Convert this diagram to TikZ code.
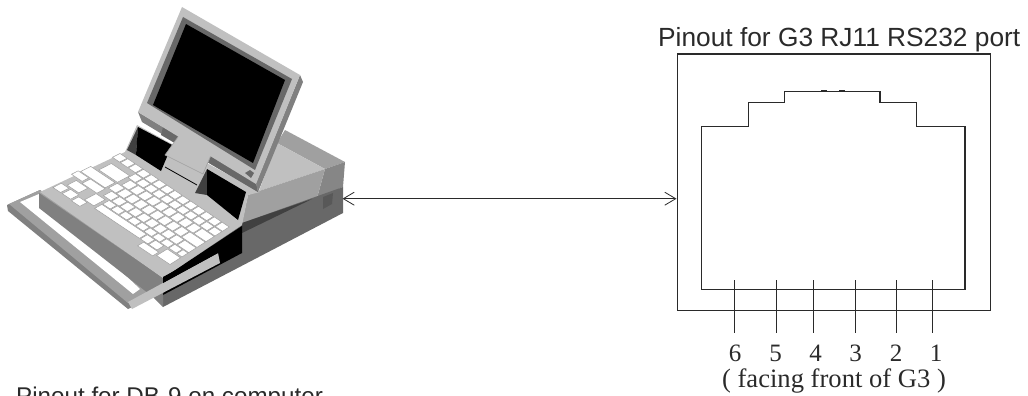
\documentclass[tikz,border=0pt]{standalone}
\usepackage{fontspec}
\setmainfont{Liberation Serif}
\setsansfont{Liberation Sans}
\usetikzlibrary{arrows.meta}
\definecolor{gA}{HTML}{C0C0C0}
\definecolor{gB}{HTML}{A0A0A0}
\definecolor{gC}{HTML}{808080}
\definecolor{gD}{HTML}{686868}
\definecolor{gV}{HTML}{585858}
\definecolor{gE}{HTML}{404040}
\definecolor{ink}{HTML}{2A2A2A}
\tikzset{
  wire/.style={draw=ink,line width=1.1pt},
  pin/.style={draw=ink,line width=1pt},
  title/.style={font=\sffamily\fontsize{26.3}{28}\selectfont,text=ink,inner sep=0pt},
  subtitle/.style={font=\sffamily\fontsize{24.2}{26}\selectfont,text=ink,inner sep=0pt},
  num/.style={font=\fontsize{25}{27}\selectfont,text=ink,inner sep=0pt},
  note/.style={font=\fontsize{26.6}{28}\selectfont,text=ink,inner sep=0pt},
  keycap/.style={fill=white,draw=gB,line width=0.5pt,line join=miter},
  link/.style={draw=ink,line width=0.8pt,{Straight Barb[length=11pt,width=13pt,line width=0.8pt]}-{Straight Barb[length=11pt,width=13pt,line width=0.8pt]}}
}
\newcommand\kpt[3]{%
  \pgfmathsetmacro\ku{(#2)/14}\pgfmathsetmacro\kv{(#3)/8}%
  \pgfmathsetmacro\kx{(1-\kv)*((1-\ku)*120+\ku*230)+\kv*((1-\ku)*53+\ku*170)}%
  \pgfmathsetmacro\ky{(1-\kv)*((1-\ku)*153+\ku*227)+\kv*((1-\ku)*187+\ku*265)}%
  \coordinate (#1) at (\kx,\ky);}
\newcommand\keyq[4]{%
  \kpt{ka}{#1+.05}{#2+.05}\kpt{kb}{#3-.05}{#2+.05}\kpt{kc}{#3-.05}{#4-.05}\kpt{kd}{#1+.05}{#4-.05}%
  \draw[keycap] (ka)--(kb)--(kc)--(kd)--cycle;}
\begin{document}
\begin{tikzpicture}[x=1pt,y=-1pt]
\clip (0,0) rectangle (1028,396);
% --- rear housing
\fill[gB] (285,130)--(345,162)--(325,169)--(277,143)--cycle;
\fill[gA] (277,143)--(325,169)--(259,191)--cycle;
\fill[gC!80!gB] (325,169)--(345,162)--(343,187)--(317,198)--cycle;
\fill[gB] (259,191)--(325,169)--(317,198)--(242,223)--(248,195)--cycle;
% --- lower housing
\fill[gD] (242,223)--(343,187)--(343,213)--(163,307)--(163,278)--cycle;
\fill[gE] (242,223)--(312,199)--(242,233)--cycle;
\fill[gV] (323,197)--(333,193)--(332,204)--(323,209)--cycle;
\fill[black] (242,226)--(242,253)--(163,295)--(163,278)--cycle;
% --- pull-out tray
\fill[gC] (7,205)--(40,190)--(163,278)--(163,307)--(153,297)--(128,309)--(8,211)--cycle;
\fill[gB] (9,204)--(40,190)--(150,270)--(150,295)--(128,303)--cycle;
\fill[white] (20,202)--(39,194)--(140,289)--(133,294)--cycle;
\fill[gC] (39,193)--(39,208)--(153,297)--(163,293)--(163,278)--cycle;
% --- keyboard deck
\fill[gA] (40,192)--(125,152)--(137,125)--(260,192)--(248,195)--(242,225)--(163,278)--cycle;
% --- keys
\foreach \u in {0,...,13} {\keyq{\u}{0}{\u+1}{1}}
\foreach \u in {3,...,13} {\keyq{\u}{1}{\u+1}{2}}
\keyq{0.6}{1.6}{3}{3.2}
\foreach \u in {3.4,4.4,...,11.4} {\keyq{\u}{2}{\u+1}{3.2}}
\keyq{12.4}{2}{14}{3.2}
\foreach \u in {3,...,11} {\keyq{\u}{3.2}{\u+1}{4.4}}
\keyq{12}{3.2}{14}{4.4}
\keyq{-0.2}{3.3}{2.9}{4.6}
\keyq{-0.4}{4.6}{1}{5.5}
\keyq{1.1}{4.6}{3}{5.7}
\foreach \u in {3.5,4.5,...,11.5} {\keyq{\u}{4.4}{\u+1}{5.5}}
\keyq{12.5}{4.4}{14}{5.5}
\foreach \u in {4.3,5.3,...,12.3} {\keyq{\u}{5.5}{\u+1}{6.4}}
\keyq{13.3}{5.5}{14}{6.4}
\keyq{2.9}{5.7}{4.1}{7.2}
\keyq{0.5}{5.7}{2}{6.9}
\keyq{0}{7}{1}{8.1}
\keyq{1.1}{7}{2.2}{8.1}
\keyq{2.3}{7.2}{3.4}{8.2}
\keyq{4.3}{6.4}{9.8}{7.4}
\keyq{9.8}{6.4}{10.8}{7.4}
\keyq{10.8}{6.4}{11.9}{7.4}
\keyq{12.3}{6.5}{14}{8}
\keyq{10.3}{7.4}{12.2}{8.3}
% --- wells beside the hinge
\fill[gE] (138,127)--(127,150)--(136,155)--cycle;
\fill[black] (138,127)--(172,145)--(161,171)--(136,155)--cycle;
\fill[gE] (207,169)--(195,193)--(207,195)--cycle;
\fill[black] (207,169)--(246,192)--(238,220)--(207,195)--cycle;
% --- front strip of the tray
\fill[gA] (128,302)--(218,253)--(220,263)--(132,309)--cycle;
\fill[black] (163,277)--(218,247)--(218,253)--(163,283)--cycle;
% --- lid underside
\fill[gC] (138,112)--(256,183)--(258,192)--(142,122)--cycle;
\fill[gD] (163,127)--(256,183)--(258,192)--(161,135)--cycle;
% --- hinge
\fill[gA] (183,130)--(214,148)--(203,175)--(165,155)--cycle;
\draw[gB,line width=0.6pt] (165,155)--(183,130)--(214,148)--(203,174)--cycle;
\draw[black,line width=0.8pt] (165,167)--(197,185);
% --- lid
\fill[gC] (300,75)--(303,82)--(258,192)--(256,183)--cycle;
\fill[gA] (182,7)--(300,75)--(256,184)--(138,112)--cycle;
\fill[gD] (183,17)--(292,79)--(255,170)--(147,103)--cycle;
\fill[black] (186,24)--(285,80)--(253,163)--(153,105)--cycle;
\fill[gD] (245,173)--(250,170)--(254,173)--(251,178)--cycle;
% --- G3 port
\node[draw=ink,line width=1.1pt,minimum width=313.5pt,minimum height=256.5pt,inner sep=0pt,anchor=north west] (g3) at (676.5,53.5) {};
\draw[wire,line join=miter] (701.7,126.7)--(748.5,126.7)--(748.5,102.3)--(784.3,102.3)--(784.3,91.3)--(880,91.3)--(880,102.3)--(916.3,102.3)--(916.3,126.7)--(965,126.7)--(965,289.7)--(701.7,289.7)--cycle;
\draw[ink,line width=1.8pt] (821,91.3)--(827,91.3) (839,91.3)--(845,91.3);
\foreach \n/\x/\lx in {6/734/735,5/776.3/775.5,4/813.3/815.5,3/855.7/855.5,2/896.7/896,1/932.3/936} {
  \coordinate (pt\n) at (\x,280);
  \coordinate (pb\n) at (\x,333.3);
  \draw[pin] (pt\n)--(pb\n);
  \node[num] (n\n) at (\lx,353) {\n};
}
\coordinate (laptop) at (342.5,198.7);
\draw[link] (laptop)--(g3.west |- laptop);
% --- text
\node[title,anchor=base west] (t1) at (658,46.5) {Pinout for G3 RJ11 RS232 port};
\node[subtitle,anchor=base west] (t2) at (16,404) {Pinout for DB-9 on computer};
\node[note] (t3) at (834,381) {( facing front of G3 )};
\end{tikzpicture}
\end{document}
